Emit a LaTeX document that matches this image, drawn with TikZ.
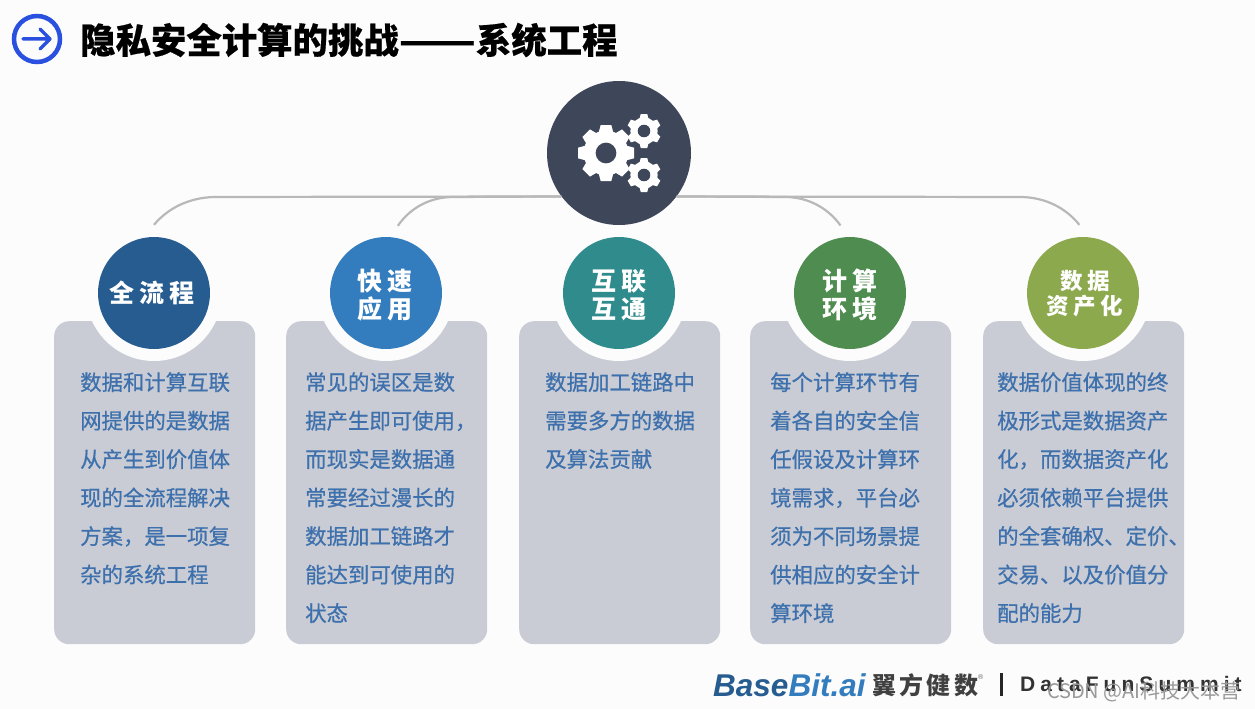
\documentclass[tikz,border=0pt]{standalone}
\usepackage{fontspec}
\setmainfont{Noto Sans CJK SC}
\newfontfamily\bodyf[FakeBold=0.6]{Noto Sans CJK SC}
\newfontfamily\titlef[BoldFeatures={FakeBold=0.5}]{Noto Sans CJK SC}
\newfontfamily\labf[LetterSpace=20]{Noto Sans CJK SC}
\newfontfamily\brandf[LetterSpace=14]{Noto Sans CJK SC}
\newfontfamily\dataf[LetterSpace=24]{Liberation Sans}
\newfontfamily\basef{Liberation Sans}
\definecolor{bg}{HTML}{FCFCFD}
\definecolor{cardc}{HTML}{C9CCD4}
\definecolor{txtb}{HTML}{3D70AC}
\definecolor{hubc}{HTML}{3E4659}
\definecolor{linec}{HTML}{B8B8B8}
\definecolor{iconb}{HTML}{2A50E0}
\definecolor{c1}{HTML}{265C90}
\definecolor{c2}{HTML}{337DBF}
\definecolor{c3}{HTML}{2F8B8C}
\definecolor{c4}{HTML}{4F8C50}
\definecolor{c5}{HTML}{8DA94D}
\tikzset{
 card/.style={fill=cardc,rounded corners=15pt,minimum width=201pt,minimum height=323pt,anchor=north west,inner sep=0},
 halo/.style={circle,fill=bg,minimum size=136pt,inner sep=0},
 badge/.style={circle,minimum size=112pt,inner sep=0},
 blabel/.style={inner sep=0,text=white,align=center,font=\labf\bfseries\fontsize{25}{28}\selectfont},
 body/.style={anchor=north west,inner sep=0,align=left,text=txtb,font=\bodyf\fontsize{21.4}{38.5}\selectfont},
 link/.style={draw=linec,line width=2.2pt},
 pics/gear/.style n args={3}{code={
   \fill[white] (0,0) circle (#2*0.8);
   \foreach \a in {1,...,#1}{
     \fill[white,rotate=\a*360/#1+#3] (#2*0.7,-#2*0.27) -- (#2,-#2*0.19) -- (#2,#2*0.19) -- (#2*0.7,#2*0.27) -- cycle;
   }
   \fill[hubc] (0,0) circle (#2*0.37);
 }}
}
\begin{document}
\begin{tikzpicture}[x=1pt,y=-1pt]
\useasboundingbox[fill=bg] (0,0) rectangle (1255,709);
% title
\node[circle,draw=iconb,line width=4.5pt,minimum size=46pt,inner sep=0] (icon) at (37,39) {};
\draw[iconb,line width=3.5pt,line cap=round,line join=round] (23,39) -- (50,39) (40,29) -- (50,39) -- (40,49);
\node[anchor=west,inner sep=0,font=\titlef\bfseries\fontsize{35.4}{40}\selectfont,text=black] (title) at (80,40) {隐私安全计算的挑战\scalebox{1.27}[1]{——}系统工程};
% cards
\node[card] (k1) at (54,321) {};
\node[card] (k2) at (286,321) {};
\node[card] (k3) at (519,321) {};
\node[card] (k4) at (750,321) {};
\node[card] (k5) at (983,321) {};
\node[halo] (h1) at (154,293) {};
\node[halo] (h2) at (386,293) {};
\node[halo] (h3) at (619,293) {};
\node[halo] (h4) at (850,293) {};
\node[halo] (h5) at (1083,293) {};
% hub and links
\node[circle,fill=hubc,minimum size=144pt,inner sep=0] (hub) at (619,153) {};
\draw[link] (hub.217) -- (216,197) .. controls (190,197) and (168,208) .. (h1.north);
\draw[link] (hub.217) -- (453,197) .. controls (430,197) and (410,208) .. (h2.80);
\draw[link] (hub.323) -- (785,197) .. controls (808,197) and (828,208) .. (h4.98);
\draw[link] (hub.323) -- (1020,197) .. controls (1045,197) and (1066,208) .. (h5.93);
\pic at (606,153) {gear={8}{28}{0}};
\pic at (644,131) {gear={6}{17}{30}};
\pic at (644,175) {gear={6}{17}{30}};
% badges
\node[badge,fill=c1] (b1) at (154,293) {};
\node[badge,fill=c2] (b2) at (386,293) {};
\node[badge,fill=c3] (b3) at (619,293) {};
\node[badge,fill=c4] (b4) at (850,293) {};
\node[badge,fill=c5] (b5) at (1083,293) {};
\node[blabel] (l1) at (152,293) {全流程};
\node[blabel] (l2) at (385,295) {快速\\应用};
\node[blabel] (l3) at (619,295) {互联\\互通};
\node[blabel] (l4) at (850,295) {计算\\环境};
\node[blabel,font=\labf\bfseries\fontsize{22.5}{25}\selectfont] (l5) at (1085,294) {数据\\资产化};
% card text
\node[body] (t1) at (80,372) {数据和计算互联\\网提供的是数据\\从产生到价值体\\现的全流程解决\\方案，是一项复\\杂的系统工程};
\node[body] (t2) at (305,372) {常见的误区是数\\据产生即可使用，\\而现实是数据通\\常要经过漫长的\\数据加工链路才\\能达到可使用的\\状态};
\node[body] (t3) at (545,372) {数据加工链路中\\需要多方的数据\\及算法贡献};
\node[body] (t4) at (770,372) {每个计算环节有\\着各自的安全信\\任假设及计算环\\境需求，平台必\\须为不同场景提\\供相应的安全计\\算环境};
\node[body] (t5) at (997,372) {数据价值体现的终\\极形式是数据资产\\化，而数据资产化\\必须依赖平台提供\\的全套确权、定价、\\交易、以及价值分\\配的能力};
% footer
\node[anchor=west,inner sep=0,font=\basef\bfseries\itshape\fontsize{31.5}{34}\selectfont] (brand) at (713,685) {\textcolor{c1}{Base}\textcolor{c2}{Bit.ai}};
\node[anchor=west,inner sep=0,text=black!75,font=\brandf\bfseries\fontsize{24}{28}\selectfont] (cn) at (872,685) {翼方健数};
\node[anchor=west,inner sep=0,text=black!60,font=\basef\fontsize{7}{8}\selectfont] (reg) at (978,677) {®};
\node[fill=black!85,minimum width=3pt,minimum height=23pt,inner sep=0] (bar) at (1001,684) {};
\node[anchor=west,inner sep=0,text=black!80,font=\dataf\bfseries\fontsize{21}{24}\selectfont] (df) at (1020,684) {DataFunSummit};
\node[anchor=east,inner sep=0,text=black!40,font=\fontsize{20}{24}\selectfont] (wm) at (1241,692) {CSDN @AI科技大本营};
\end{tikzpicture}
\end{document}
